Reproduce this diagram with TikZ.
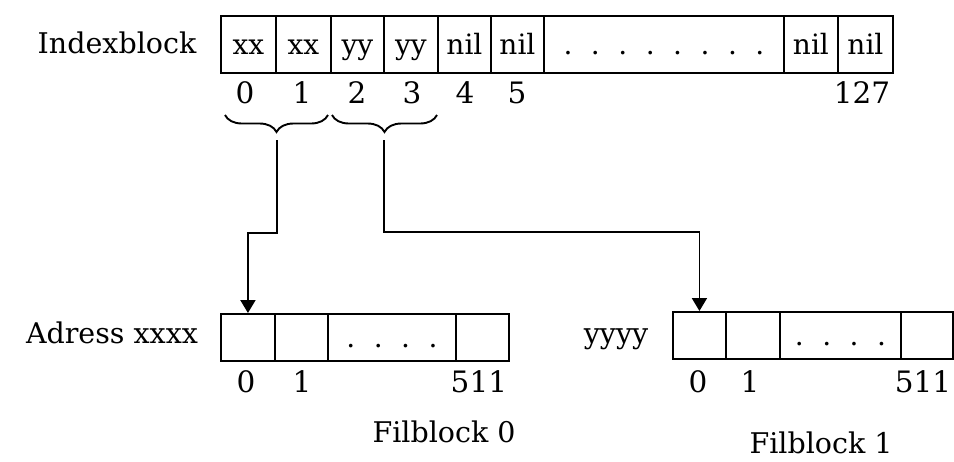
\documentclass[tikz,border=0pt]{standalone}
\usepackage{fontspec}
\setmainfont{DejaVu Serif}
\usetikzlibrary{arrows.meta,decorations.pathreplacing}
\newcommand\dotgap{\hskip 18.5pt}
\begin{document}
\begin{tikzpicture}[x=1pt,y=-1pt,line width=1.9pt,
  txt/.style={font=\fontsize{28.5}{30}\selectfont,inner sep=0pt},
  cell/.style={draw,inner sep=0pt,anchor=north west,text height=21pt,text depth=0pt,
    font=\fontsize{28}{30}\selectfont},
  icell/.style={cell,minimum height=57pt},
  fcell/.style={cell,minimum height=47pt},
  num/.style={txt,anchor=base,font=\fontsize{29.5}{31}\selectfont},
  brc/.style={decorate,decoration={brace,mirror,amplitude=17pt}},
  arr/.style={-{Triangle[width=15pt,length=13pt]}}]
\useasboundingbox (0,0) rectangle (954,461);

% index block
\node[txt,anchor=base] (ilabel) at (117,53) {Indexblock};
\node[icell,minimum width=55pt] (i0) at (220,15) {xx};
\node[icell,minimum width=55pt] (i1) at (275,15) {xx};
\node[icell,minimum width=53pt] (i2) at (330,15) {yy};
\node[icell,minimum width=54pt] (i3) at (383,15) {yy};
\node[icell,minimum width=53pt] (i4) at (437,15) {nil};
\node[icell,minimum width=53pt] (i5) at (490,15) {nil};
\node[icell,minimum width=240pt] (idots) at (543,15) {.\dotgap.\dotgap.\dotgap.\dotgap.\dotgap.\dotgap.\dotgap.};
\node[icell,minimum width=54pt] (i126) at (783,15) {nil};
\node[icell,minimum width=55pt] (i127) at (837,15) {nil};

\node[num] (n0) at (245,103) {0};
\node[num] (n1) at (302,103) {1};
\node[num] (n2) at (357,103) {2};
\node[num] (n3) at (412,103) {3};
\node[num] (n4) at (465,103) {4};
\node[num] (n5) at (517,103) {5};
\node[num,anchor=base east] (n127) at (891,103) {127};

% braces grouping pairs of entries
\draw[brc] (225,115) -- (328,115);
\draw[brc] (332,115) -- (437,115);
\coordinate (b0) at (277,140);
\coordinate (b1) at (384,140);

% file block 0
\node[txt,anchor=base] (alabel) at (112,343) {Adress xxxx};
\node[fcell,minimum width=54pt] (a0) at (220,313) {};
\node[fcell,minimum width=53pt] (a1) at (274,313) {};
\node[fcell,minimum width=128pt] (adots) at (327,313) {.\dotgap.\dotgap.\dotgap.};
\node[fcell,minimum width=53pt] (a511) at (455,313) {};
\node[num] (m0) at (246,392) {0};
\node[num] (m1) at (302,392) {1};
\node[num,anchor=base east] (m511) at (508,392) {511};
\node[txt,anchor=base] (f0) at (444,442) {Filblock 0};

% file block 1
\node[txt,anchor=base] (ylabel) at (616,343) {yyyy};
\node[fcell,minimum width=53pt] (y0) at (672,311) {};
\node[fcell,minimum width=54pt] (y1) at (725,311) {};
\node[fcell,minimum width=121pt] (ydots) at (779,311) {.\dotgap.\dotgap.\dotgap.};
\node[fcell,minimum width=52pt] (y511) at (900,311) {};
\node[num] (k0) at (698,392) {0};
\node[num] (k1) at (750,392) {1};
\node[num,anchor=base east] (k511) at (952,392) {511};
\node[txt,anchor=base] (f1) at (821,453) {Filblock 1};

% pointers
\draw[arr] (b0) -- ++(0,93) -| (a0.north);
\draw[arr] (b1) -- ++(0,92) -| (y0.north);
\end{tikzpicture}
\end{document}
